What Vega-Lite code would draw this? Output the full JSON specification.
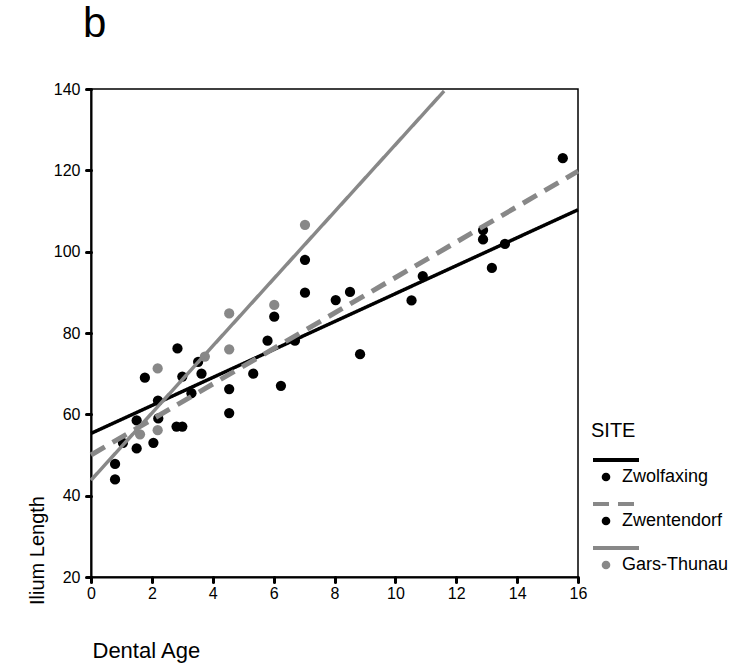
{
  "$schema": "https://vega.github.io/schema/vega-lite/v6.json",
  "width": 487,
  "height": 488,
  "autosize": {"type": "none"},
  "padding": {"left": 91, "top": 89, "right": 167, "bottom": 89},
  "background": "white",
  "title": {
    "text": "b",
    "anchor": "start",
    "frame": "group",
    "font": "Liberation Sans",
    "fontSize": 42,
    "fontWeight": "normal",
    "color": "black",
    "baseline": "alphabetic",
    "dx": -8,
    "offset": 2
  },
  "config": {
    "font": "Liberation Sans",
    "view": {"stroke": "black", "strokeWidth": 1.5},
    "axis": {
      "grid": false,
      "domainColor": "black",
      "domainWidth": 2,
      "tickColor": "black",
      "tickWidth": 3,
      "tickSize": 5,
      "tickCap": "round",
      "labelFont": "Liberation Sans",
      "labelFontSize": 16,
      "labelColor": "black",
      "labelPadding": 3,
      "labelFlush": false,
      "labelOverlap": false,
      "titleFont": "Liberation Sans",
      "titleFontSize": 20,
      "titleFontWeight": "normal",
      "titleColor": "black"
    },
    "legend": {
      "labelFont": "Liberation Sans",
      "titleFont": "Liberation Sans",
      "labelColor": "black",
      "titleColor": "black"
    }
  },
  "datasets": {
    "bones": [
      {"site": "Zwolfaxing", "dental_age": 0.79, "ilium_length": 47.8},
      {"site": "Zwolfaxing", "dental_age": 1.05, "ilium_length": 53.0},
      {"site": "Zwolfaxing", "dental_age": 1.5, "ilium_length": 58.5},
      {"site": "Zwolfaxing", "dental_age": 1.77, "ilium_length": 69.0},
      {"site": "Zwolfaxing", "dental_age": 2.2, "ilium_length": 63.4},
      {"site": "Zwolfaxing", "dental_age": 2.84, "ilium_length": 76.2},
      {"site": "Zwolfaxing", "dental_age": 3.0, "ilium_length": 69.3},
      {"site": "Zwolfaxing", "dental_age": 3.3, "ilium_length": 65.2},
      {"site": "Zwolfaxing", "dental_age": 3.52, "ilium_length": 72.9},
      {"site": "Zwolfaxing", "dental_age": 4.54, "ilium_length": 66.2},
      {"site": "Zwolfaxing", "dental_age": 4.54, "ilium_length": 60.3},
      {"site": "Zwolfaxing", "dental_age": 5.33, "ilium_length": 70.0},
      {"site": "Zwolfaxing", "dental_age": 5.8, "ilium_length": 78.1},
      {"site": "Zwolfaxing", "dental_age": 6.24, "ilium_length": 67.0},
      {"site": "Zwolfaxing", "dental_age": 6.7, "ilium_length": 78.1},
      {"site": "Zwolfaxing", "dental_age": 8.84, "ilium_length": 74.8},
      {"site": "Zwolfaxing", "dental_age": 10.53, "ilium_length": 88.0},
      {"site": "Zwolfaxing", "dental_age": 10.9, "ilium_length": 94.0},
      {"site": "Zwolfaxing", "dental_age": 13.17, "ilium_length": 96.0},
      {"site": "Zwolfaxing", "dental_age": 13.6, "ilium_length": 101.9},
      {"site": "Zwentendorf", "dental_age": 0.79, "ilium_length": 44.0},
      {"site": "Zwentendorf", "dental_age": 1.5, "ilium_length": 51.6},
      {"site": "Zwentendorf", "dental_age": 2.05, "ilium_length": 53.0},
      {"site": "Zwentendorf", "dental_age": 2.21, "ilium_length": 59.0},
      {"site": "Zwentendorf", "dental_age": 2.81, "ilium_length": 57.0},
      {"site": "Zwentendorf", "dental_age": 3.0, "ilium_length": 57.0},
      {"site": "Zwentendorf", "dental_age": 3.63, "ilium_length": 70.0},
      {"site": "Zwentendorf", "dental_age": 6.02, "ilium_length": 84.0},
      {"site": "Zwentendorf", "dental_age": 7.03, "ilium_length": 98.0},
      {"site": "Zwentendorf", "dental_age": 7.03, "ilium_length": 89.9},
      {"site": "Zwentendorf", "dental_age": 8.04, "ilium_length": 88.1},
      {"site": "Zwentendorf", "dental_age": 8.51, "ilium_length": 90.1},
      {"site": "Zwentendorf", "dental_age": 12.88, "ilium_length": 105.3},
      {"site": "Zwentendorf", "dental_age": 12.88, "ilium_length": 103.0},
      {"site": "Zwentendorf", "dental_age": 15.5, "ilium_length": 123.0},
      {"site": "Gars-Thunau", "dental_age": 1.61, "ilium_length": 55.1},
      {"site": "Gars-Thunau", "dental_age": 2.19, "ilium_length": 56.1},
      {"site": "Gars-Thunau", "dental_age": 2.19, "ilium_length": 71.3},
      {"site": "Gars-Thunau", "dental_age": 3.74, "ilium_length": 74.2},
      {"site": "Gars-Thunau", "dental_age": 4.54, "ilium_length": 84.8},
      {"site": "Gars-Thunau", "dental_age": 4.54, "ilium_length": 76.0},
      {"site": "Gars-Thunau", "dental_age": 6.02, "ilium_length": 86.9},
      {"site": "Gars-Thunau", "dental_age": 7.03, "ilium_length": 106.6}
    ],
    "fits": [
      {"fit_site": "Zwolfaxing", "dental_age": 0, "ilium_length": 55.3},
      {"fit_site": "Zwolfaxing", "dental_age": 16, "ilium_length": 110.3},
      {"fit_site": "Zwentendorf", "dental_age": 0, "ilium_length": 50.0},
      {"fit_site": "Zwentendorf", "dental_age": 16, "ilium_length": 119.8},
      {"fit_site": "Gars-Thunau", "dental_age": 0, "ilium_length": 43.8},
      {"fit_site": "Gars-Thunau", "dental_age": 11.6, "ilium_length": 139.5}
    ]
  },
  "encoding": {
    "x": {
      "field": "dental_age",
      "type": "quantitative",
      "scale": {"domain": [0, 16], "nice": false, "zero": false},
      "axis": {
        "title": "Dental Age",
        "values": [0, 2, 4, 6, 8, 10, 12, 14, 16],
        "titleFontSize": 22,
        "titleX": 1,
        "titleY": 73,
        "titleAlign": "left",
        "titleBaseline": "middle"
      }
    },
    "y": {
      "field": "ilium_length",
      "type": "quantitative",
      "scale": {"domain": [20, 140], "nice": false, "zero": false},
      "axis": {
        "title": "Ilium Length",
        "values": [20, 40, 60, 80, 100, 120, 140],
        "labelPadding": 6,
        "titleX": -54,
        "titleY": 461,
        "titleAngle": 270,
        "titleAlign": "center",
        "titleBaseline": "middle"
      }
    }
  },
  "layer": [
    {
      "data": {"name": "bones"},
      "mark": {"type": "point", "filled": true, "size": 105, "opacity": 1, "strokeWidth": 0},
      "encoding": {
        "color": {
          "field": "site",
          "type": "nominal",
          "sort": "descending",
          "scale": {"range": ["#000000", "#000000", "#888888"]},
          "legend": {
            "title": null,
            "orient": "none",
            "legendX": 506,
            "legendY": 379,
            "padding": 0,
            "symbolType": "circle",
            "symbolSize": 75,
            "symbolStrokeWidth": 0,
            "symbolOpacity": 1,
            "labelFontSize": 18,
            "labelOffset": 7,
            "rowPadding": 26
          }
        }
      }
    },
    {
      "data": {"name": "fits"},
      "mark": {"type": "line"},
      "encoding": {
        "stroke": {
          "field": "fit_site",
          "type": "nominal",
          "sort": "descending",
          "scale": {"range": ["#000000", "#888888", "#888888"]},
          "legend": {
            "title": "SITE",
            "orient": "none",
            "legendX": 500,
            "legendY": 332,
            "padding": 0,
            "symbolType": "stroke",
            "symbolSize": 2116,
            "symbolStrokeWidth": 4,
            "labelExpr": "''",
            "rowPadding": 11,
            "titlePadding": -6,
            "titleFontSize": 20,
            "titleFontWeight": "normal"
          }
        },
        "strokeDash": {
          "field": "fit_site",
          "type": "nominal",
          "sort": "descending",
          "scale": {"range": [[1, 0], [16, 9], [1, 0]]},
          "legend": {
            "title": "SITE",
            "orient": "none",
            "legendX": 500,
            "legendY": 332,
            "padding": 0,
            "symbolType": "stroke",
            "symbolSize": 2116,
            "symbolStrokeWidth": 4,
            "labelExpr": "''",
            "rowPadding": 11,
            "titlePadding": -6,
            "titleFontSize": 20,
            "titleFontWeight": "normal"
          }
        },
        "strokeWidth": {
          "condition": {"test": "datum.fit_site === 'Zwentendorf'", "value": 5},
          "value": 3.5
        }
      }
    }
  ]
}
